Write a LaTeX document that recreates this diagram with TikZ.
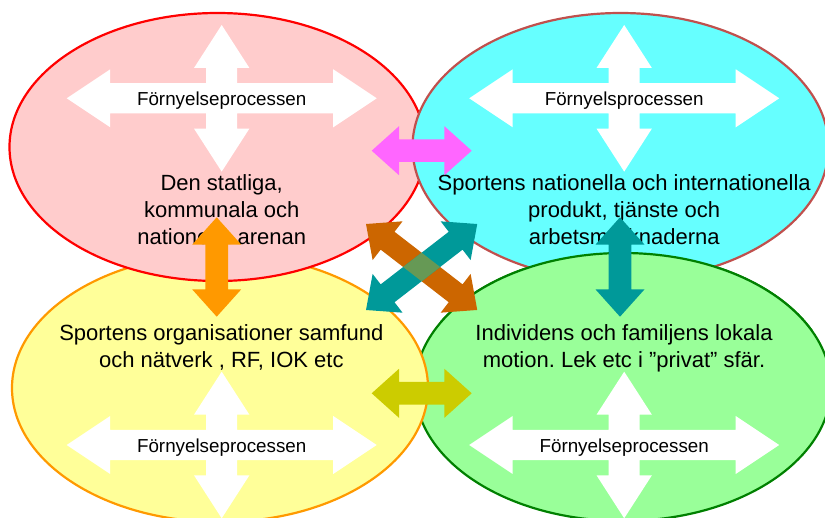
\documentclass[tikz,border=0pt]{standalone}
\usepackage{fontspec}
\setmainfont{Liberation Sans}
\frenchspacing
\usetikzlibrary{shapes.geometric}
\definecolor{pinkfill}{HTML}{FFCCCC}
\definecolor{pinkline}{HTML}{FF0000}
\definecolor{cyanfill}{HTML}{66FFFF}
\definecolor{cyanline}{HTML}{C0504D}
\definecolor{yellowfill}{HTML}{FFFF99}
\definecolor{yellowline}{HTML}{FF9900}
\definecolor{greenfill}{HTML}{99FF99}
\definecolor{greenline}{HTML}{008000}
\definecolor{magentaarr}{HTML}{FF66FF}
\definecolor{olivearr}{HTML}{CCCC00}
\definecolor{orangearr}{HTML}{FF9900}
\definecolor{tealarr}{HTML}{009999}
\definecolor{brownarr}{HTML}{CC6600}
\definecolor{crossarr}{HTML}{669955}
\def\arrH{27.3}
\def\arrW{24.5}
\def\arrS{11.3}
\newcommand\dblarrowpath[1]{(0,0) -- (\arrH,\arrW) -- (\arrH,\arrS) -- ({#1-\arrH},\arrS) -- ({#1-\arrH},\arrW) -- (#1,0) -- ({#1-\arrH},-\arrW) -- ({#1-\arrH},-\arrS) -- (\arrH,-\arrS) -- (\arrH,-\arrW) -- cycle}
\newcommand\quadarrowpath{(0,-73.3) -- (27.7,-30.3) -- (15.5,-30.3) -- (15.5,-15.2) -- (111.5,-15.2) -- (111.5,-29) -- (155,0) -- (111.5,29) -- (111.5,15.2) -- (15.5,15.2) -- (15.5,30.3) -- (27.7,30.3) -- (0,73.3) -- (-27.7,30.3) -- (-15.5,30.3) -- (-15.5,15.2) -- (-111.5,15.2) -- (-111.5,29) -- (-155,0) -- (-111.5,-29) -- (-111.5,-15.2) -- (-15.5,-15.2) -- (-15.5,-30.3) -- (-27.7,-30.3) -- cycle}
\begin{document}
\begin{tikzpicture}[x=1pt,y=-1pt,
  sphere/.style={ellipse, minimum width=416pt, minimum height=268pt, inner sep=0pt, line width=2.2pt},
  maintext/.style={anchor=base, inner sep=0pt, font=\fontsize{22}{26.7}\selectfont},
  smalltext/.style={anchor=base, inner sep=0pt, font=\fontsize{18.8}{22}\selectfont},
  quad/.style={fill=white}]
\useasboundingbox (0,0) rectangle (825,518);
% ellipses (cyclic overlap)
\node[sphere, fill=greenfill, draw=greenline] (green) at (623,387) {};
\node[sphere, fill=yellowfill, draw=yellowline] (yellow) at (220,388) {};
\node[sphere, fill=pinkfill, draw=pinkline] (pink) at (217.5,147) {};
\node[sphere, fill=cyanfill, draw=cyanline] (cyan) at (620.5,147) {};
\begin{scope}
  \clip (440,230) rectangle (830,330);
  \node[sphere, fill=greenfill, draw=greenline] (greentop) at (623,387) {};
\end{scope}
% white four-way arrows
\fill[quad, shift={(221.7,98.3)}] \quadarrowpath;
\fill[quad, shift={(624.2,98.3)}] \quadarrowpath;
\fill[quad, shift={(221.7,445)}] \quadarrowpath;
\fill[quad, shift={(624.2,445)}] \quadarrowpath;
\node[smalltext] (fp1) at (221.7,106) {Förnyelseprocessen};
\node[smalltext] (fp2) at (624.2,106) {Förnyelsprocessen};
\node[smalltext] (fp3) at (221.7,452.5) {Förnyelseprocessen};
\node[smalltext] (fp4) at (624.2,452.5) {Förnyelseprocessen};
% main texts
\node[maintext] (p1) at (221.7,191) {Den statliga,};
\node[maintext] (p2) at (221.7,217.6) {kommunala och};
\node[maintext] (p3) at (221.7,244.2) {nationella arenan};
\node[maintext] (c1) at (624.2,191) {Sportens nationella och internationella};
\node[maintext] (c2) at (624.2,217.6) {produkt, tjänste och};
\node[maintext] (c3) at (624.2,244.2) {arbetsmarknaderna};
\node[maintext] (y1) at (221.3,340.7) {Sportens organisationer samfund};
\node[maintext] (y2) at (221.3,367.3) {och nätverk , RF, IOK etc};
\node[maintext] (g1) at (624,340.7) {Individens och familjens lokala};
\node[maintext] (g2) at (624,367.3) {motion. Lek etc i ”privat” sfär.};
% coloured double arrows
\fill[magentaarr, shift={(371.7,150.7)}] \dblarrowpath{100};
\fill[olivearr, shift={(371.7,393.3)}] \dblarrowpath{100};
\fill[orangearr, shift={(216.7,217.3)}, rotate=-90] \dblarrowpath{99.4};
\fill[tealarr, shift={(620,217.3)}, rotate=-90] \dblarrowpath{99.4};
\fill[brownarr, shift={(366,224)}, rotate=-37.7] \dblarrowpath{140.6};
\fill[tealarr, shift={(366,310)}, rotate=37.7] \dblarrowpath{140.6};
\begin{scope}
  \clip[shift={(366,224)}, rotate=-37.7] \dblarrowpath{140.6};
  \fill[crossarr, shift={(366,310)}, rotate=37.7] \dblarrowpath{140.6};
\end{scope}
\end{tikzpicture}
\end{document}
